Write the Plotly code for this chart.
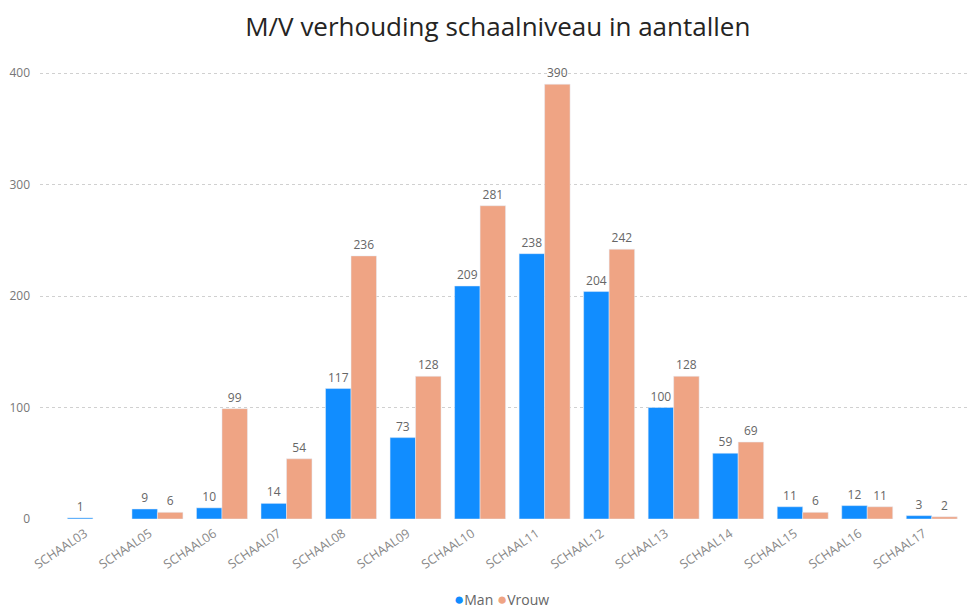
import plotly.graph_objects as go

categories = ["SCHAAL03", "SCHAAL05", "SCHAAL06", "SCHAAL07", "SCHAAL08", "SCHAAL09", "SCHAAL10",
              "SCHAAL11", "SCHAAL12", "SCHAAL13", "SCHAAL14", "SCHAAL15", "SCHAAL16", "SCHAAL17"]
man = [1, 9, 10, 14, 117, 73, 209, 238, 204, 100, 59, 11, 12, 3]
vrouw = [None, 6, 99, 54, 236, 128, 281, 390, 242, 128, 69, 6, 11, 2]
y_ticks = [0, 100, 200, 300, 400]

BLUE = "#118DFF"
ORANGE = "#EFA484"
FONT = "Open Sans, Noto Sans, sans-serif"

fig = go.Figure()
fig.add_trace(go.Bar(
    x=categories, y=man, name="Man", marker_color=BLUE, showlegend=False,
    text=[str(v) for v in man], textposition="outside", cliponaxis=False,
    textfont=dict(color="#666666", size=12, family=FONT),
))
fig.add_trace(go.Bar(
    x=categories, y=vrouw, name="Vrouw", marker_color=ORANGE, showlegend=False,
    text=[("" if v is None else str(v)) for v in vrouw], textposition="outside", cliponaxis=False,
    textfont=dict(color="#666666", size=12, family=FONT),
))

legend_text = (f'<span style="color:{BLUE};font-size:17px">●</span><span style="color:#666666">Man </span>'
               f'<span style="color:{ORANGE};font-size:17px">●</span><span style="color:#666666">Vrouw</span>')

fig.update_layout(
    width=968, height=606,
    margin=dict(l=32, r=1, t=52, b=95),
    paper_bgcolor="white", plot_bgcolor="white",
    barmode="group", bargap=0.21, bargroupgap=0,
    title=dict(text="M/V verhouding schaalniveau in aantallen", x=0.506, xanchor="center",
               y=0.969, yanchor="middle",
               font=dict(family=FONT, size=26, color="#252423")),
    font=dict(family=FONT, color="#777777"),
    xaxis=dict(range=[-0.82, 13.67], tickangle=-34, showgrid=False, zeroline=False,
               tickfont=dict(size=12.5, color="#888888"), showline=False, ticks="",
               ticklabelshift=-8, ticklabelstandoff=4, automargin=False),
    yaxis=dict(range=[0, 411.7], tickvals=y_ticks, showgrid=True, gridcolor="#d0d0d0",
               griddash="dot", gridwidth=1, zeroline=False, tickfont=dict(size=12, color="#777777"),
               ticks="", ticklabelstandoff=9, automargin=False),
    showlegend=False,
    annotations=[dict(text=legend_text, xref="paper", yref="paper", x=0.494, y=-0.174,
                      xanchor="center", yanchor="middle", showarrow=False,
                      font=dict(size=14, family=FONT))],
)
fig.write_html("out.html")
